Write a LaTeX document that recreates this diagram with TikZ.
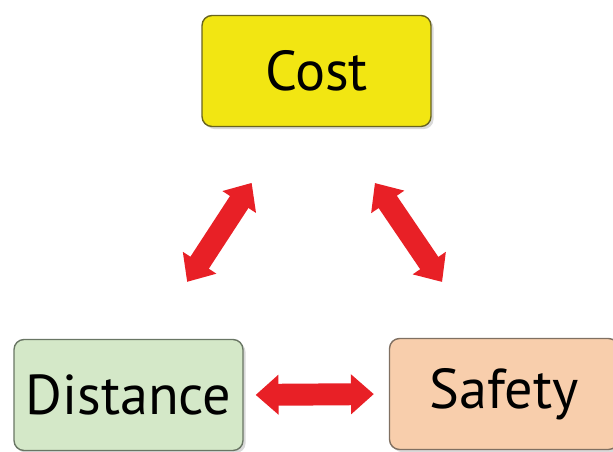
\documentclass[tikz,border=0pt]{standalone}
\usepackage{fontspec}
\setmainfont{PT Sans}
\usetikzlibrary{arrows.meta,shadows}
\definecolor{costfill}{RGB}{242,230,18}
\definecolor{costline}{RGB}{105,100,30}
\definecolor{distfill}{RGB}{212,232,200}
\definecolor{distline}{RGB}{105,118,100}
\definecolor{safefill}{RGB}{248,206,172}
\definecolor{safeline}{RGB}{128,112,98}
\definecolor{arrowred}{RGB}{232,32,38}
\begin{document}
\begin{tikzpicture}[x = .02cm, y = -.02cm, line join = round,
	box/.style = {rectangle, rounded corners = .2cm, line width = .8pt,
		minimum width = 4.58cm, minimum height = 2.22cm,
		font = \fontsize{32}{38}\selectfont,
		drop shadow = {shadow xshift = 1.5pt, shadow yshift = -1.5pt, opacity = .3}},
	dblarrow/.style = {arrowred, line width = 12.5pt,
		{Triangle[width = 22pt, length = 13pt]}-{Triangle[width = 22pt, length = 13pt]}}]
	\useasboundingbox (0,0) rectangle (613,452);
	\begin{scope}
	\clip (0,0) rectangle (613,452);
	\node[box, draw = costline, fill = costfill] (cost) at (316.5,71) {Cost};
	\node[box, draw = distline, fill = distfill] (dist) at (128.5,395) {Distance};
	\node[box, draw = safeline, fill = safefill] (safe) at (504,394) {Safety};
	\end{scope}
	% double arrows between the boxes
	\draw[dblarrow, shorten < = 1.36cm, shorten > = 1.33cm]
	([shift = {(21.5,0)}]dist.north) -- ([shift = {(-28.5,0)}]cost.south);
	\draw[dblarrow, shorten < = 1.35cm, shorten > = 1.35cm]
	([shift = {(20.5,0)}]cost.south) -- ([shift = {(-24,0)}]safe.north);
	\draw[dblarrow, shorten < = .24cm, shorten > = .3cm]
	(dist.east) -- (safe.west);
\end{tikzpicture}
\end{document}
